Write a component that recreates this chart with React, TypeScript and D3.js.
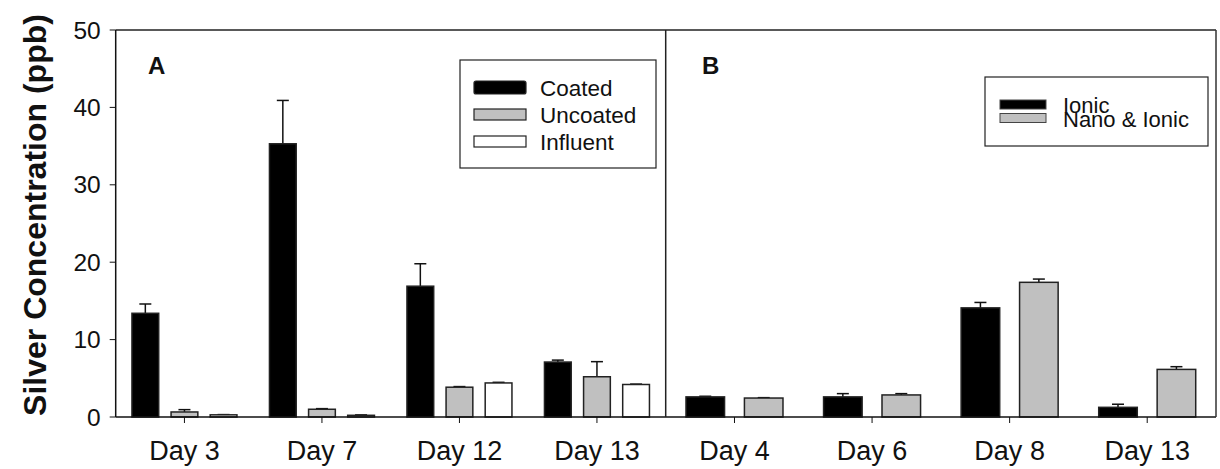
import React from "react";
import * as d3 from "d3";

const daysA = ["Day 3", "Day 7", "Day 12", "Day 13"];
const coated = [13.4, 35.3, 16.9, 7.1];
const coatedErr = [1.2, 5.6, 2.9, 0.25];
const uncoated = [0.65, 1.0, 3.85, 5.2];
const uncoatedErr = [0.3, 0.08, 0.08, 1.95];
const influent = [0.28, 0.22, 4.4, 4.2];
const influentErr = [0.03, 0.05, 0.08, 0.05];

const daysB = ["Day 4", "Day 6", "Day 8", "Day 13"];
const ionic = [2.6, 2.6, 14.1, 1.25];
const ionicErr = [0.08, 0.42, 0.7, 0.4];
const nano = [2.45, 2.85, 17.4, 6.15];
const nanoErr = [0.05, 0.17, 0.42, 0.35];

const yTicks = [0, 10, 20, 30, 40, 50];

const FONT = "'Liberation Sans', Arial, Helvetica, sans-serif";

type Series = { name: string; values: number[]; err: number[]; fill: string };

const seriesA: Series[] = [
  { name: "Coated", values: coated, err: coatedErr, fill: "#000" },
  { name: "Uncoated", values: uncoated, err: uncoatedErr, fill: "#c0c0c0" },
  { name: "Influent", values: influent, err: influentErr, fill: "#fff" },
];
const seriesB: Series[] = [
  { name: "Ionic", values: ionic, err: ionicErr, fill: "#000" },
  { name: "Nano & Ionic", values: nano, err: nanoErr, fill: "#c0c0c0" },
];

const width = 1220;
const height = 469;
const left = 115.7;
const mid = 665.7;
const right = 1216;
const top = 30;
const bottom = 417;

const y = d3.scaleLinear().domain([0, 50]).range([bottom, top]);

function Panel({ days, series, x0, x1, groupW, padIn }: { days: string[]; series: Series[]; x0: number; x1: number; groupW: number; padIn: number }) {
  const x = d3.scaleBand().domain(days).range([x0, x1]).padding(0);
  const inner = d3.scaleBand().domain(series.map((s) => s.name)).range([0, groupW]).paddingInner(padIn);
  const off = (x.bandwidth() - groupW) / 2;
  return (
    <g>
      {days.map((d, i) => (
        <g key={d}>
          {series.map((s) => {
            const bx = (x(d) as number) + off + (inner(s.name) as number);
            const bw = inner.bandwidth();
            const v = s.values[i];
            const cx = bx + bw / 2;
            return (
              <g key={s.name}>
                <line x1={cx} x2={cx} y1={y(v)} y2={y(v + s.err[i])} stroke="#111" strokeWidth={1.5} />
                <line x1={cx - 6} x2={cx + 6} y1={y(v + s.err[i])} y2={y(v + s.err[i])} stroke="#111" strokeWidth={1.5} />
                <rect x={bx} y={y(v)} width={bw} height={bottom - y(v)} fill={s.fill} stroke="#222" strokeWidth={1.5} />
              </g>
            );
          })}
          <line x1={(x(d) as number) + x.bandwidth() / 2} x2={(x(d) as number) + x.bandwidth() / 2} y1={bottom} y2={bottom + 6} stroke="#111" />
          <text x={(x(d) as number) + x.bandwidth() / 2} y={bottom + 43} textAnchor="middle" fontSize={27} fontFamily={FONT} fill="#111">
            {d}
          </text>
        </g>
      ))}
    </g>
  );
}

export default function App() {
  return (
    <svg width={width} height={height} style={{ position: "absolute", left: 0, top: 0, background: "#fff" }}>
      <rect x={0} y={0} width={width} height={height} fill="#fff" />
      <Panel days={daysA} series={seriesA} x0={left} x1={mid} groupW={105} padIn={0.316} />
      <Panel days={daysB} series={seriesB} x0={mid} x1={right} groupW={97} padIn={0.34} />

      {/* frame */}
      <line x1={left} x2={right} y1={top} y2={top} stroke="#222" strokeWidth={1.5} />
      <line x1={left} x2={right} y1={bottom} y2={bottom} stroke="#111" strokeWidth={1.5} />
      <line x1={left} x2={left} y1={top} y2={bottom} stroke="#111" strokeWidth={1.5} />
      <line x1={mid} x2={mid} y1={top} y2={bottom} stroke="#222" strokeWidth={1.5} />
      <line x1={right} x2={right} y1={top} y2={bottom} stroke="#333" strokeWidth={1.5} />

      {yTicks.map((t) => (
        <g key={t}>
          <line x1={left - 6} x2={left} y1={y(t)} y2={y(t)} stroke="#111" />
          <text x={left - 15} y={y(t) + 8.5} textAnchor="end" fontSize={24.5} fontFamily={FONT} fill="#111">
            {t}
          </text>
        </g>
      ))}

      <text transform={`translate(46,215) rotate(-90)`} textAnchor="middle" fontSize={32} fontWeight="bold" fontFamily={FONT} fill="#111">
        Silver Concentration (ppb)
      </text>

      <text x={148} y={74} fontSize={24} fontWeight="bold" fontFamily={FONT} fill="#111">A</text>
      <text x={702} y={74} fontSize={24} fontWeight="bold" fontFamily={FONT} fill="#111">B</text>

      {/* legend A */}
      <rect x={460} y={60} width={196} height={108} fill="#fff" stroke="#222" strokeWidth={1.2} />
      {seriesA.map((s, i) => (
        <g key={s.name}>
          <rect x={474} y={i === 0 ? 81 : 81 + i * 27 + 1} width={52} height={i === 0 ? 13 : 11} rx={i === 0 ? 2 : 0} fill={s.fill} stroke="#222" strokeWidth={1.2} />
          <text x={540} y={96 + i * 27} fontSize={22.5} fontFamily={FONT} fill="#111">{s.name}</text>
        </g>
      ))}

      {/* legend B */}
      <rect x={985} y={77} width={223} height={69} fill="#fff" stroke="#222" strokeWidth={1.2} />
      {seriesB.map((s, i) => (
        <g key={s.name}>
          <rect x={1000} y={100 + i * 13.5} width={46} height={9} fill={s.fill} stroke="#444" strokeWidth={1} />
          <text x={1063} y={112.5 + i * 14.5} fontSize={22} fontFamily={FONT} fill="#111">{s.name}</text>
        </g>
      ))}
    </svg>
  );
}
